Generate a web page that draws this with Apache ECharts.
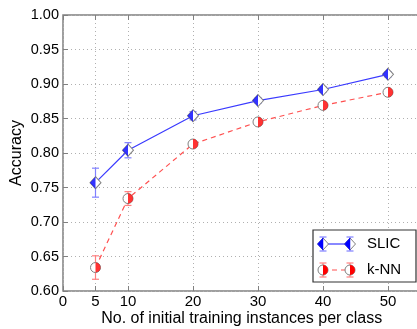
<!DOCTYPE html>
<html>
<head>
<meta charset="utf-8">
<script src="https://cdn.jsdelivr.net/npm/echarts@6/dist/echarts.min.js"></script>
<style>
  html, body { margin: 0; padding: 0; background: #fff; }
  #chart { width: 417px; height: 329px; }
</style>
</head>
<body>
<div id="chart"></div>
<script>
// data
var xTicks = [0, 5, 10, 20, 30, 40, 50];
var instances = [5, 10, 20, 30, 40, 50];
var slicAcc = [0.757, 0.804, 0.854, 0.876, 0.892, 0.914];
var slicErr = [0.021, 0.011, 0.006, 0.004, 0.004, 0.004];
var knnAcc = [0.634, 0.734, 0.813, 0.845, 0.869, 0.888];
var knnErr = [0.017, 0.010, 0.004, 0.003, 0.003, 0.003];

var FONT = 'Liberation Sans, Arial, sans-serif';
var chart = echarts.init(document.getElementById('chart'));

function pairs(xs, ys) {
  return xs.map(function (x, i) { return [x, ys[i]]; });
}

// error bars drawn with custom series
function errBars(name, ys, es, color) {
  return {
    type: 'custom',
    name: name,
    z: 3,
    silent: true,
    data: instances.map(function (x, i) { return [x, ys[i], es[i]]; }),
    renderItem: function (params, api) {
      var x = api.value(0), y = api.value(1), e = api.value(2);
      var top = api.coord([x, y + e]);
      var bot = api.coord([x, y - e]);
      var w = 3.5;
      var st = { stroke: color, lineWidth: 1.2 };
      return {
        type: 'group',
        children: [
          { type: 'line', shape: { x1: top[0], y1: top[1], x2: bot[0], y2: bot[1] }, style: st },
          { type: 'line', shape: { x1: top[0] - w, y1: top[1], x2: top[0] + w, y2: top[1] }, style: st },
          { type: 'line', shape: { x1: bot[0] - w, y1: bot[1], x2: bot[0] + w, y2: bot[1] }, style: st }
        ]
      };
    }
  };
}

var halfLeftDiamond = 'path://M0,6 L5,0 L5,12 Z';
var halfRightCircle = 'path://M0,0 A5,5 0 0 1 0,10 Z';

// legend (decoration only)
function legendRow(y, color, errColor, dashed, marker) {
  var items = [];
  var xa = 323, xb = 350;
  items.push({ type: 'line', shape: { x1: xa, y1: y, x2: xb, y2: y },
    style: { stroke: color, lineWidth: 1.2, lineDash: dashed ? [5, 4] : null } });
  [xa, xb].forEach(function (cx) {
    items.push({ type: 'line', shape: { x1: cx, y1: y - 7, x2: cx, y2: y + 7 }, style: { stroke: errColor, lineWidth: 1.2 } });
    items.push({ type: 'line', shape: { x1: cx - 3.5, y1: y - 7, x2: cx + 3.5, y2: y - 7 }, style: { stroke: errColor, lineWidth: 1.2 } });
    items.push({ type: 'line', shape: { x1: cx - 3.5, y1: y + 7, x2: cx + 3.5, y2: y + 7 }, style: { stroke: errColor, lineWidth: 1.2 } });
    if (marker === 'diamond') {
      items.push({ type: 'polygon', shape: { points: [[cx - 5.5, y], [cx, y - 6], [cx + 5.5, y], [cx, y + 6]] },
        style: { fill: '#fff', stroke: '#808080', lineWidth: 1 } });
      items.push({ type: 'polygon', shape: { points: [[cx - 5.5, y], [cx, y - 6], [cx, y + 6]] },
        style: { fill: '#0000ff', stroke: '#0000ff', lineWidth: 0.5 } });
    } else {
      items.push({ type: 'circle', shape: { cx: cx, cy: y, r: 5 }, style: { fill: '#fff', stroke: '#808080', lineWidth: 1 } });
      items.push({ type: 'sector', shape: { cx: cx, cy: y, r: 5, startAngle: -Math.PI / 2, endAngle: Math.PI / 2 },
        style: { fill: '#ff0000' } });
    }
  });
  return items;
}

var legendItems = [
  { type: 'rect', shape: { x: 313, y: 230, width: 103, height: 52 },
    style: { fill: '#fff', stroke: '#333', lineWidth: 1.2 } }
].concat(legendRow(244, '#3a3aff', '#8080ff', false, 'diamond'))
 .concat(legendRow(270, '#ff5050', '#ff8080', true, 'circle'))
 .concat([
  { type: 'text', x: 367, y: 244, style: { text: 'SLIC', font: '15px ' + FONT, fill: '#000', verticalAlign: 'middle' } },
  { type: 'text', x: 367, y: 270, style: { text: 'k-NN', font: '15px ' + FONT, fill: '#000', verticalAlign: 'middle' } }
]);

var option = {
  animation: false,
  backgroundColor: '#fff',
  textStyle: { fontFamily: FONT },
  grid: {
    left: 63, top: 15, width: 357.5, height: 276,
    outerBoundsMode: 'none',
    show: true, borderColor: '#808080', borderWidth: 1.5, backgroundColor: '#fff'
  },
  xAxis: [{
    type: 'value', min: 0, max: 55,
    name: 'No. of initial training instances per class',
    nameLocation: 'middle', nameGap: 20, nameMoveOverlap: false,
    nameTextStyle: { fontSize: 16, color: '#000' },
    axisLine: { show: false },
    axisTick: { show: true, inside: true, length: 5, customValues: xTicks, lineStyle: { color: '#808080' } },
    axisLabel: { customValues: xTicks, fontSize: 15, color: '#000', margin: 3 },
    splitLine: { show: true, lineStyle: { type: [1, 3], color: '#b0b0b0' } }
  }, {
    type: 'value', min: 0, max: 55, position: 'top',
    axisLine: { show: false },
    axisTick: { show: true, inside: true, length: 5, customValues: xTicks, lineStyle: { color: '#808080' } },
    axisLabel: { show: false },
    splitLine: { show: false }
  }],
  yAxis: {
    type: 'value', min: 0.6, max: 1.0, interval: 0.05,
    name: 'Accuracy', nameLocation: 'middle', nameGap: 38, nameMoveOverlap: false,
    nameTextStyle: { fontSize: 16, color: '#000' },
    axisLine: { show: false },
    axisTick: { show: true, inside: true, length: 5, lineStyle: { color: '#808080' } },
    axisLabel: { fontSize: 14.5, color: '#000', margin: 4, formatter: function (v) { return v.toFixed(2); } },
    splitLine: { show: true, lineStyle: { type: [1, 3], color: '#b0b0b0' } }
  },
  graphic: { elements: legendItems.map(function (e) { e.z = 100; return e; }) },
  series: [
    errBars('SLIC err', slicAcc, slicErr, '#8080ff'),
    errBars('kNN err', knnAcc, knnErr, '#ff8080'),
    {
      name: 'SLIC', type: 'line', z: 4,
      data: pairs(instances, slicAcc),
      lineStyle: { color: '#3a3aff', width: 1.2 },
      symbol: 'diamond', symbolSize: [11, 12],
      itemStyle: { color: '#fff', borderColor: '#808080', borderWidth: 1 }
    },
    {
      name: 'k-NN', type: 'line', z: 4,
      data: pairs(instances, knnAcc),
      lineStyle: { color: '#ff5050', width: 1.2, type: [5, 4] },
      symbol: 'circle', symbolSize: 10,
      itemStyle: { color: '#fff', borderColor: '#808080', borderWidth: 1 }
    },
    {
      name: 'SLIC fill', type: 'scatter', z: 5, silent: true,
      data: pairs(instances, slicAcc),
      symbol: halfLeftDiamond, symbolSize: [5.5, 12], symbolOffset: [-2.75, 0],
      itemStyle: { color: '#0000ff' }
    },
    {
      name: 'k-NN fill', type: 'scatter', z: 5, silent: true,
      data: pairs(instances, knnAcc),
      symbol: halfRightCircle, symbolSize: [5, 10], symbolOffset: [2.5, 0],
      itemStyle: { color: '#ff0000' }
    }
  ]
};

chart.setOption(option);
</script>
</body>
</html>
